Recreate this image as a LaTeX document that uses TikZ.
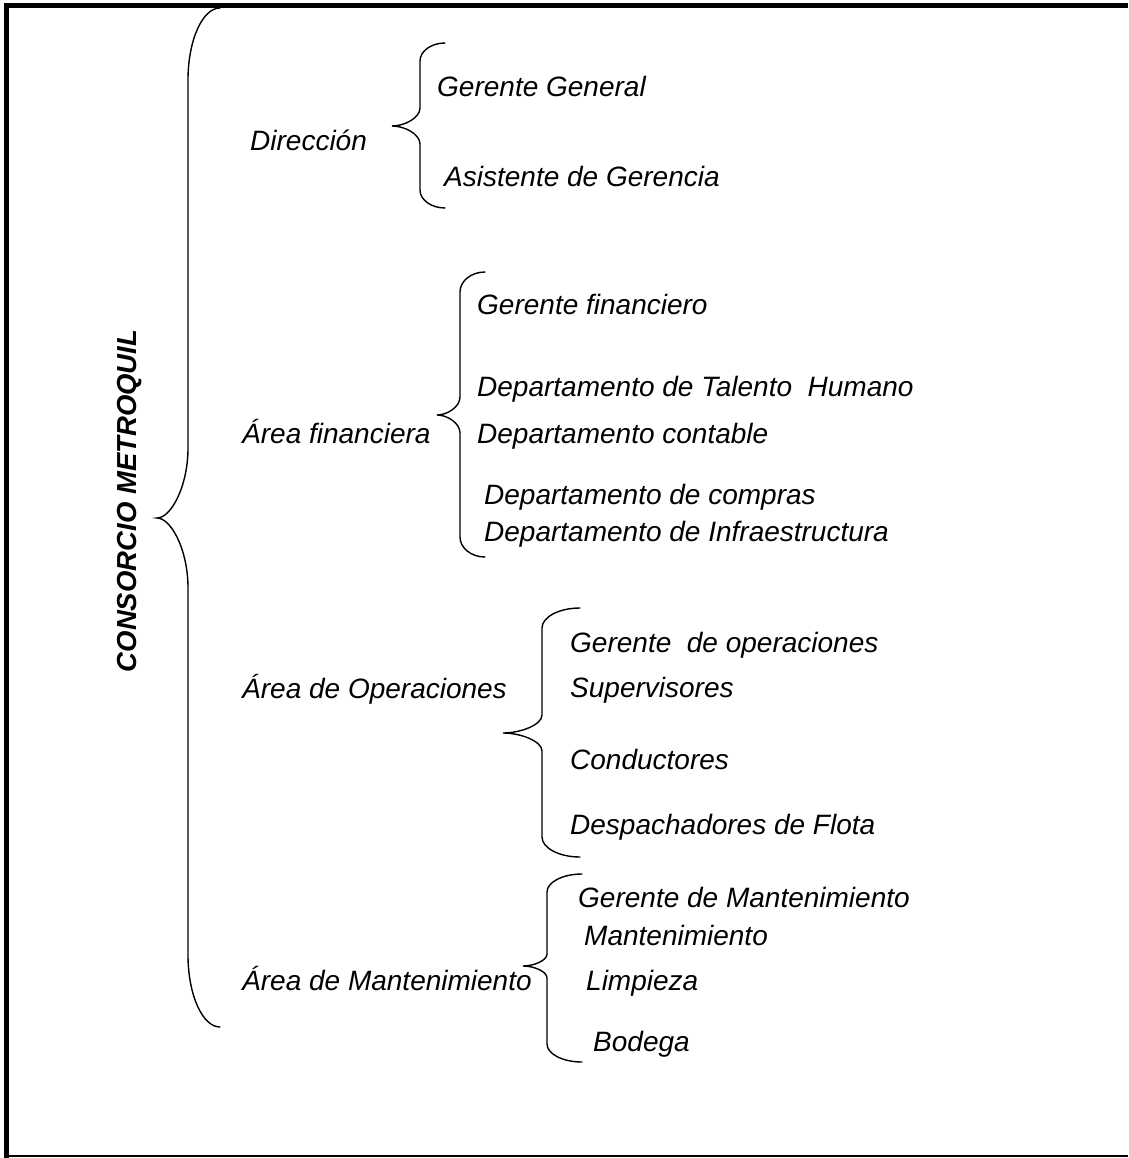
\documentclass[tikz,border=0pt]{standalone}
\usepackage{fontspec}
\setmainfont{Liberation Sans}
\newcommand\brc[8]{%
\draw[bracestyle] (#1,#4) .. controls ({#2+0.45*(#1-#2)},#4) and (#2,{#4+0.45*#7}) .. (#2,{#4+#7})
 -- (#2,{#5-#8}) .. controls (#2,{#5-0.45*#8}) and ({#3+0.45*(#2-#3)},#5) .. (#3,#5)
 .. controls ({#3+0.45*(#2-#3)},#5) and (#2,{#5+0.45*#8}) .. (#2,{#5+#8})
 -- (#2,{#6-#7}) .. controls (#2,{#6-0.45*#7}) and ({#2+0.45*(#1-#2)},#6) .. (#1,#6);}
\begin{document}
\begin{tikzpicture}[x=1pt,y=-1pt,
  bracestyle/.style={line width=1.4pt,line cap=round},
  lbl/.style={anchor=base west,inner sep=0pt,font=\fontsize{28}{31}\selectfont\itshape},
  title/.style={inner sep=0pt,rotate=90,font=\fontsize{27.5}{30}\selectfont\bfseries\itshape}]
\useasboundingbox (0,0) rectangle (1128,1158);
\fill[white] (0,0) rectangle (1128,1158);
% frame
\draw[line width=5.5pt] (6.5,1158) -- (6.5,5.5) -- (1128,5.5);
\draw[line width=1.5pt] (4,1156) -- (1128,1156);
% title
\node[title] (t) at (130,501) {CONSORCIO METROQUIL};
% braces
\brc{220}{188}{157}{8}{518}{1027}{72}{70}
\brc{445}{420}{392}{43}{126}{208}{18}{18}
\brc{485}{460}{437}{272}{415}{557}{20}{18}
\brc{580}{542}{503}{608}{733}{857}{20}{18}
\brc{582}{547}{523}{874}{966}{1062}{18}{12}
% level 1
\node[lbl] (dir) at (250,151) {Dirección};
\node[lbl] (fin) at (242,443) {Área financiera};
\node[lbl] (ope) at (242,698) {Área de Operaciones};
\node[lbl] (man) at (242,990) {Área de Mantenimiento};
% direccion
\node[lbl] (d1) at (437,97) {Gerente General};
\node[lbl] (d2) at (444,187) {Asistente de Gerencia};
% financiera
\node[lbl] (f1) at (477,314) {Gerente financiero};
\node[lbl] (f2) at (477,396) {Departamento de Talento\ \ Humano};
\node[lbl] (f3) at (477,443) {Departamento contable};
\node[lbl] (f4) at (484,504) {Departamento de compras};
\node[lbl] (f5) at (484,541) {Departamento de Infraestructura};
% operaciones
\node[lbl] (o1) at (570,652) {Gerente\ \ de operaciones};
\node[lbl] (o2) at (570,697) {Supervisores};
\node[lbl] (o3) at (570,769) {Conductores};
\node[lbl] (o4) at (570,834) {Despachadores de Flota};
% mantenimiento
\node[lbl] (m1) at (578,907) {Gerente de Mantenimiento};
\node[lbl] (m2) at (584,945) {Mantenimiento};
\node[lbl] (m3) at (586,990) {Limpieza};
\node[lbl] (m4) at (593,1051) {Bodega};
\end{tikzpicture}
\end{document}
